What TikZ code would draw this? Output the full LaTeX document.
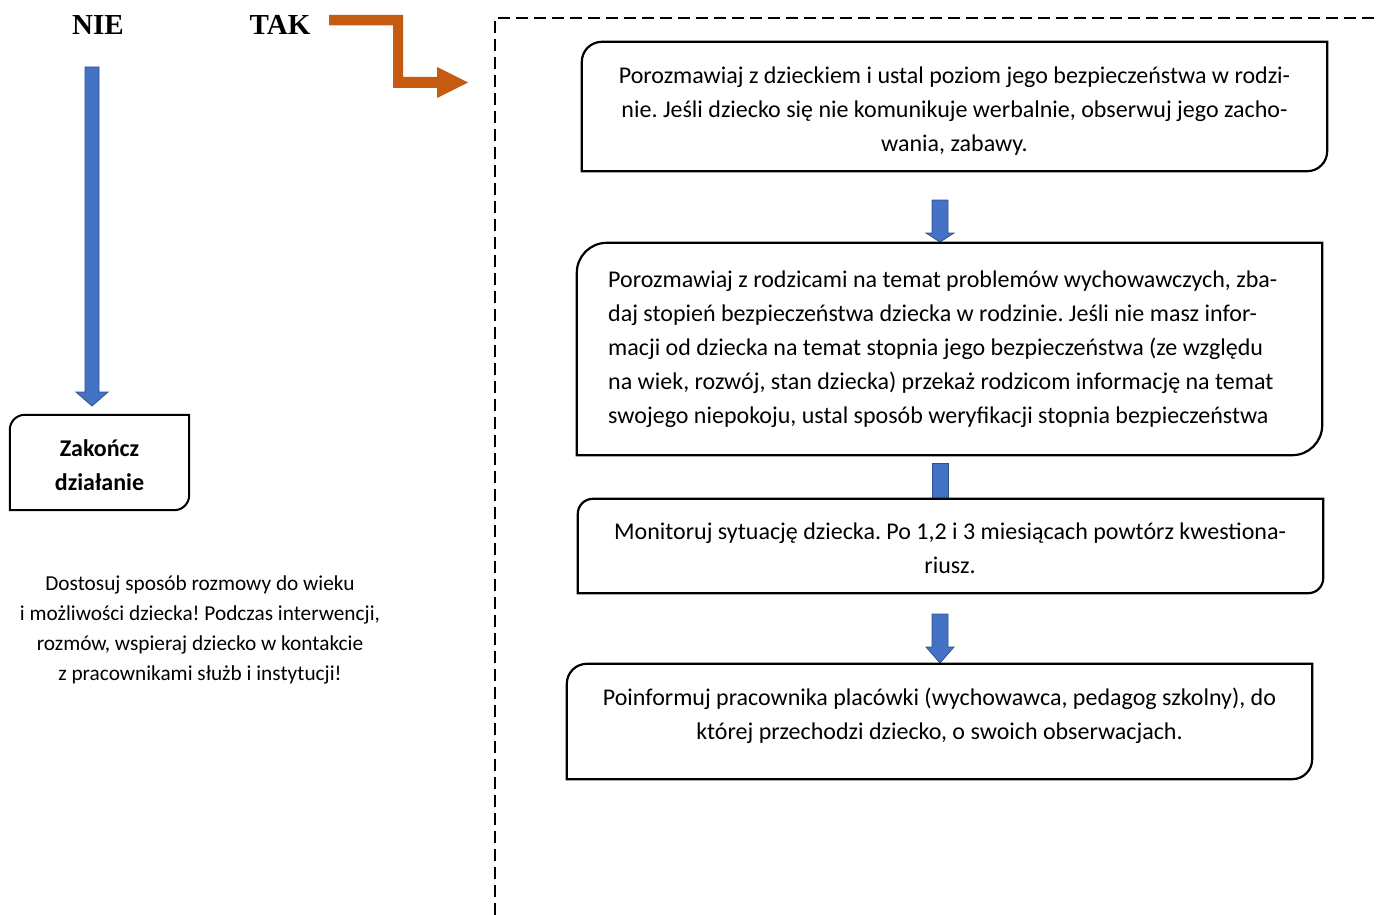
\documentclass[tikz,border=0pt]{standalone}
\usepackage{fontspec}
\setmainfont{Carlito}
\newfontfamily\timesfont{Liberation Serif}
\definecolor{orangearr}{HTML}{C55A11}
\definecolor{bluefill}{HTML}{4472C4}
\definecolor{blueedge}{HTML}{2F528F}
\frenchspacing
\begin{document}
\begin{tikzpicture}[x=1pt,y=-1pt,
  frame/.style={inner sep=0pt, draw=none, minimum width=#1},
  txt/.style={inner sep=0pt, font=\fontsize{24}{34}\selectfont, align=center},
  outline/.style={line width=2.2pt, fill=white},
  blockarrow/.style={fill=bluefill, draw=blueedge, line width=0.8pt},
  yesno/.style={font=\timesfont\bfseries\fontsize{29}{34}\selectfont, inner sep=0pt}]
\useasboundingbox (0,0) rectangle (1376,915);

% dashed frame
\coordinate (d1) at (495,915);
\coordinate (d2) at (495,18);
\coordinate (d3) at (1376,18);
\draw[line width=1.2pt, dash pattern=on 12pt off 6pt] (d1) -- (d2) -- (d3);

% labels
\node[yesno] (nie) at (98,25) {NIE};
\node[yesno] (tak) at (280,25) {TAK};

% orange bent arrow
\fill[orangearr] (329,15) -- (403,15) -- (403,77) -- (437,77) -- (437,67) -- (468,82.5) -- (437,98) -- (437,88) -- (393,88) -- (393,25.5) -- (329,25.5) -- cycle;

% long blue arrow
\draw[blockarrow] (85,67) -- (99,67) -- (99,392) -- (108,392) -- (92,406) -- (76,392) -- (85,392) -- cycle;

% Zakoncz box
\node[frame=179pt, minimum height=95pt] (zak) at (99.5,462.5) {};
\draw[outline, line width=2pt] (zak.south west) -- ([yshift=-15pt]zak.north west) arc[start angle=180,end angle=90,radius=15pt] -- (zak.north east) -- ([yshift=15pt]zak.south east) arc[start angle=0,end angle=-90,radius=15pt] -- cycle;
\node[txt, font=\bfseries\fontsize{24}{34}\selectfont] (zakt) at (99.5,465) {Zakończ\\działanie};

% side note
\node[inner sep=0pt, align=center, font=\fontsize{21.3}{30}\selectfont] (note) at (200,629.5) {Dostosuj sposób rozmowy do wieku\\i możliwości dziecka! Podczas interwencji,\\rozmów, wspieraj dziecko w kontakcie\\z pracownikami służb i instytucji!};

% small blue arrows
\draw[blockarrow] (932,200) -- (948,200) -- (948,233) -- (954,233) -- (940,242) -- (926,233) -- (932,233) -- cycle;
\draw[blockarrow] (932,463) rectangle (948,505);
\draw[blockarrow] (932,614) -- (948,614) -- (948,647) -- (954,647) -- (940,663) -- (926,647) -- (932,647) -- cycle;

% box 1
\node[frame=745pt, minimum height=129pt] (b1) at (954.5,106.5) {};
\draw[outline] (b1.south west) -- ([yshift=-20pt]b1.north west) arc[start angle=180,end angle=90,radius=20pt] -- (b1.north east) -- ([yshift=20pt]b1.south east) arc[start angle=0,end angle=-90,radius=20pt] -- cycle;
\node[txt] (t1) at (954.5,111) {Porozmawiaj z dzieckiem i ustal poziom jego bezpieczeństwa w rodzi-\\nie. Jeśli dziecko się nie komunikuje werbalnie, obserwuj jego zacho-\\wania, zabawy.};

% box 2
\node[frame=745pt, minimum height=212pt] (b2) at (949.5,349) {};
\draw[outline] (b2.south west) -- ([yshift=-30pt]b2.north west) arc[start angle=180,end angle=90,radius=30pt] -- (b2.north east) -- ([yshift=30pt]b2.south east) arc[start angle=0,end angle=-90,radius=30pt] -- cycle;
\node[txt, align=left, anchor=west] (t2) at (608,349.5) {Porozmawiaj z rodzicami na temat problemów wychowawczych, zba-\\daj stopień bezpieczeństwa dziecka w rodzinie. Jeśli nie masz infor-\\macji od dziecka na temat stopnia jego bezpieczeństwa (ze względu\\na wiek, rozwój, stan dziecka) przekaż rodzicom informację na temat\\swojego niepokoju, ustal sposób weryfikacji stopnia bezpieczeństwa};

% box 3
\node[frame=745pt, minimum height=94pt] (b3) at (950.5,546) {};
\draw[outline] (b3.south west) -- ([yshift=-15pt]b3.north west) arc[start angle=180,end angle=90,radius=15pt] -- (b3.north east) -- ([yshift=15pt]b3.south east) arc[start angle=0,end angle=-90,radius=15pt] -- cycle;
\node[txt] (t3) at (950,548.5) {Monitoruj sytuację dziecka. Po 1,2 i 3 miesiącach powtórz kwestiona-\\riusz.};

% box 4
\node[frame=745pt, minimum height=115pt] (b4) at (939.5,721.5) {};
\draw[outline] (b4.south west) -- ([yshift=-20pt]b4.north west) arc[start angle=180,end angle=90,radius=20pt] -- (b4.north east) -- ([yshift=20pt]b4.south east) arc[start angle=0,end angle=-90,radius=20pt] -- cycle;
\node[txt] (t4) at (939.5,716) {Poinformuj pracownika placówki (wychowawca, pedagog szkolny), do\\której przechodzi dziecko, o swoich obserwacjach.};
\end{tikzpicture}
\end{document}
